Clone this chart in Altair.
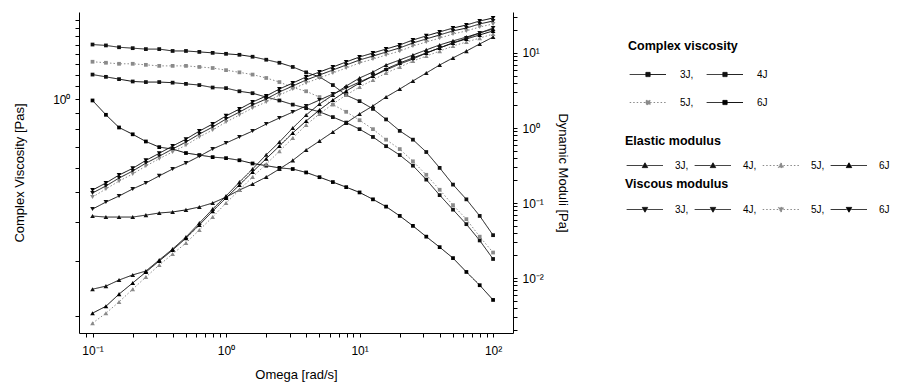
import altair as alt
import pandas as pd

FONT = "Liberation Sans"

# angular frequency (rad/s)
omega = [0.1, 0.126, 0.158, 0.2, 0.251, 0.316, 0.398, 0.501, 0.631, 0.794,
         1.0, 1.26, 1.58, 2.0, 2.51, 3.16, 3.98, 5.01, 6.31, 7.94,
         10.0, 12.6, 15.8, 20.0, 25.1, 31.6, 39.8, 50.1, 63.1, 79.4, 100.0]

series_names = ["3J", "4J", "5J", "6J"]

# complex viscosity (Pa s)
cv_3J = [1.20, 1.18, 1.16, 1.14, 1.135, 1.135, 1.13, 1.12, 1.11, 1.09, 1.085, 1.06, 1.045, 1.015, 0.99,
         0.96, 0.935, 0.91, 0.875, 0.84, 0.80, 0.755, 0.705, 0.66, 0.61, 0.55, 0.49, 0.44, 0.395, 0.35, 0.305]
cv_4J = [1.50, 1.49, 1.47, 1.46, 1.45, 1.45, 1.43, 1.43, 1.42, 1.41, 1.40, 1.39, 1.37, 1.34, 1.31,
         1.27, 1.22, 1.18, 1.11, 1.03, 0.985, 0.93, 0.86, 0.79, 0.74, 0.675, 0.60, 0.53, 0.475, 0.42, 0.364]
cv_5J = [1.32, 1.31, 1.30, 1.30, 1.29, 1.28, 1.28, 1.28, 1.27, 1.26, 1.24, 1.22, 1.20, 1.17, 1.135,
         1.09, 1.06, 1.015, 0.96, 0.91, 0.855, 0.80, 0.74, 0.69, 0.63, 0.57, 0.51, 0.455, 0.41, 0.36, 0.32]
cv_6J = [0.99, 0.89, 0.81, 0.77, 0.73, 0.70, 0.69, 0.67, 0.66, 0.65, 0.645, 0.635, 0.62, 0.61, 0.60,
         0.595, 0.58, 0.56, 0.54, 0.52, 0.50, 0.475, 0.45, 0.42, 0.39, 0.36, 0.333, 0.307, 0.277, 0.251, 0.225]

# elastic modulus G' (Pa)
el_3J = [0.067, 0.065, 0.065, 0.065, 0.069, 0.0736, 0.076, 0.081, 0.0885, 0.1, 0.12, 0.149, 0.179, 0.222, 0.284,
         0.37, 0.51, 0.67, 0.885, 1.17, 1.54, 1.97, 2.59, 3.31, 4.24, 5.41, 6.92, 8.6, 10.6, 13.2, 16.3]
el_4J = [0.0071, 0.0078, 0.0094, 0.011, 0.0124, 0.0174, 0.0244, 0.0352, 0.054, 0.083, 0.124, 0.19, 0.284, 0.44, 0.65,
         1.0, 1.49, 2.09, 2.75, 3.63, 4.64, 5.58, 6.92, 8.07, 9.4, 11.0, 12.8, 14.5, 16.3, 18.5, 20.9]
el_5J = [0.0025, 0.0034, 0.0048, 0.0071, 0.0103, 0.0149, 0.0209, 0.0293, 0.0437, 0.065, 0.1, 0.149, 0.222, 0.33, 0.49,
         0.735, 1.10, 1.54, 2.09, 2.75, 3.52, 4.37, 5.41, 6.5, 7.8, 9.1, 10.6, 12.4, 14.0, 15.8, 17.9]
el_6J = [0.0034, 0.0042, 0.0061, 0.0086, 0.012, 0.0169, 0.0236, 0.034, 0.051, 0.078, 0.117, 0.174, 0.26, 0.39, 0.575,
         0.86, 1.24, 1.74, 2.36, 3.11, 3.98, 4.93, 6.12, 7.36, 8.6, 10.0, 11.7, 13.6, 15.4, 17.4, 19.7]

# viscous modulus G'' (Pa)
vm_3J = [0.083, 0.103, 0.124, 0.154, 0.185, 0.23, 0.284, 0.34, 0.42, 0.525, 0.63, 0.76, 0.91, 1.13, 1.36,
         1.63, 1.97, 2.36, 2.84, 3.41, 4.1, 4.93, 5.93, 7.13, 8.3, 10.0, 11.7, 13.6, 15.8, 18.5, 21.5]
vm_4J = [0.136, 0.169, 0.215, 0.267, 0.34, 0.42, 0.525, 0.65, 0.83, 1.03, 1.32, 1.63, 2.03, 2.44, 3.02,
         3.63, 4.37, 5.09, 5.93, 6.92, 8.07, 9.1, 10.3, 11.7, 13.6, 15.4, 17.4, 19.7, 21.5, 24.4, 26.7]
vm_5J = [0.12, 0.154, 0.196, 0.244, 0.311, 0.39, 0.48, 0.59, 0.76, 0.94, 1.20, 1.49, 1.85, 2.22, 2.75,
         3.31, 3.98, 4.64, 5.41, 6.31, 7.36, 8.3, 9.4, 10.6, 12.4, 14.0, 15.8, 17.9, 19.7, 22.2, 24.4]
vm_6J = [0.149, 0.185, 0.236, 0.29, 0.37, 0.46, 0.575, 0.71, 0.91, 1.13, 1.45, 1.79, 2.22, 2.67, 3.31,
         3.98, 4.79, 5.58, 6.5, 7.6, 8.85, 10.0, 11.3, 12.8, 14.9, 16.9, 19.1, 21.5, 23.6, 26.7, 29.3]

# axis ticks
x_ticks = [0.09] + [round(m * 10 ** e, 6) for e in (-1, 0, 1) for m in range(1, 10)] + [100]
left_ticks = [0.2, 0.3, 0.4, 0.5, 0.6, 0.7, 0.8, 0.9, 1.0, 1.1, 1.2, 1.3, 1.4, 1.5, 1.6, 1.7, 1.8]
right_ticks = [round(m * 10 ** e, 6) for e in (-3, -2, -1, 0) for m in range(1, 10)] + [10, 20, 30]
right_ticks = [t for t in right_ticks if t >= 0.002]

series_colors = ["#111111", "#111111", "#8a8a8a", "#000000"]
series_dash = [[1, 0], [1, 0], [1.5, 2], [1, 0]]


def long_table(d):
    rows = []
    for name, vals in d.items():
        for w, v in zip(omega, vals):
            rows.append({"omega": w, "value": v, "series": name})
    return pd.DataFrame(rows)


df_cv = long_table({"3J": cv_3J, "4J": cv_4J, "5J": cv_5J, "6J": cv_6J})
df_el = long_table({"3J": el_3J, "4J": el_4J, "5J": el_5J, "6J": el_6J})
df_vm = long_table({"3J": vm_3J, "4J": vm_4J, "5J": vm_5J, "6J": vm_6J})

x_enc = alt.X(
    "omega:Q",
    scale=alt.Scale(type="log", domain=[0.0792, 141], nice=False),
    axis=alt.Axis(
        title="Omega [rad/s]", values=x_ticks,
        labelExpr="datum.value == 0.1 ? '10⁻¹' : datum.value == 1 ? '10⁰' : datum.value == 10 ? '10¹' : datum.value == 100 ? '10²' : ''",
        tickSize=4, labelPadding=8, titlePadding=12, labelFlush=False, labelOverlap=False,
    ),
)

left_axis = alt.Axis(
    title="Complex Viscosity [Pas]", orient="left", values=left_ticks,
    labelExpr="datum.value == 1 ? '10⁰' : ''", tickSize=4, labelPadding=5,
    titlePadding=26, labelOverlap=False,
)
right_axis = alt.Axis(
    title="Dynamic Moduli [Pa]", orient="right", values=right_ticks,
    labelExpr="datum.value == 0.01 ? '10⁻²' : datum.value == 0.1 ? '10⁻¹' : datum.value == 1 ? '10⁰' : datum.value == 10 ? '10¹' : ''",
    tickSize=4, labelPadding=5, titlePadding=12, labelOverlap=False,
)

SQ = "M-1.1,0H4.3M5.7,0H11M4.3,-0.7H5.7V0.7H4.3Z"
TU = "M-1.1,0H4.2M5.8,0H11M5,-0.9L5.9,0.7H4.1Z"
TD = "M-1.1,0H4.2M5.8,0H11M5,0.9L5.9,-0.7H4.1Z"


def make_legend(title, lx, ly, cols, path, tpad, rpad, cpad, loff, label_expr):
    return alt.Legend(
        title=title, orient="none", legendX=lx, legendY=ly, columns=cols, direction="horizontal",
        symbolType=path, symbolSize=36, symbolStrokeWidth=1,
        labelOffset=loff, columnPadding=cpad, rowPadding=rpad, padding=0,
        titleFont=FONT, titleFontSize=12.5, titleFontWeight="bold", titleColor="black",
        titlePadding=tpad, labelFont=FONT, labelFontSize=10, labelColor="black",
        labelExpr=label_expr,
    )


cv_labels = "(datum.label == '3J' || datum.label == '5J') ? datum.label + ',' : datum.label"
mod_labels = "datum.label == '6J' ? '6J' : datum.label + ','"

leg_cv = make_legend("Complex viscosity", 549, 28, 2, SQ, 17, 18, 10, 42, cv_labels)
leg_el = make_legend("Elastic modulus", 546, 123, 4, TU, 13, 14, 3, 40, mod_labels)
leg_vm = make_legend("Viscous modulus", 546, 166, 4, TD, 14, 14, 3, 40, mod_labels)


def group(df, y_enc, shape, size, legend):
    return alt.Chart(df).mark_line(
        strokeWidth=1,
        point=alt.OverlayMarkDef(shape=shape, filled=True, size=size, opacity=1),
    ).encode(
        x=x_enc,
        y=y_enc,
        color=alt.Color("series:N", scale=alt.Scale(domain=series_names, range=series_colors), legend=legend),
        strokeDash=alt.StrokeDash("series:N", scale=alt.Scale(domain=series_names, range=series_dash), legend=legend),
    )


y_left = alt.Y("value:Q", scale=alt.Scale(type="log", domain=[0.176, 1.91], nice=False), axis=left_axis)
y_right = alt.Y("value:Q", scale=alt.Scale(type="log", domain=[0.00185, 35.2], nice=False), axis=right_axis)

visc = group(df_cv, y_left, "square", 14, leg_cv)
elas = group(df_el, y_right, "triangle-up", 22, leg_el)
visco = group(df_vm, y_right, "triangle-down", 22, leg_vm)

moduli = alt.layer(elas, visco).resolve_scale(color="independent", strokeDash="independent")

chart = alt.layer(visc, moduli).resolve_scale(
    y="independent", color="independent", strokeDash="independent"
).properties(
    width=434, height=321,
    autosize=alt.AutoSizeParams(type="none"),
    padding={"left": 79, "top": 12, "right": 391, "bottom": 57},
).configure_view(stroke=None).configure_axis(
    grid=False, domainColor="black", tickColor="black", labelColor="black", titleColor="black",
    labelFont=FONT, titleFont=FONT, labelFontSize=12, titleFontSize=13, titleFontWeight="normal",
    domainWidth=1, tickWidth=1,
)

chart.save("out.html", embed_options={"renderer": "svg", "actions": False})
